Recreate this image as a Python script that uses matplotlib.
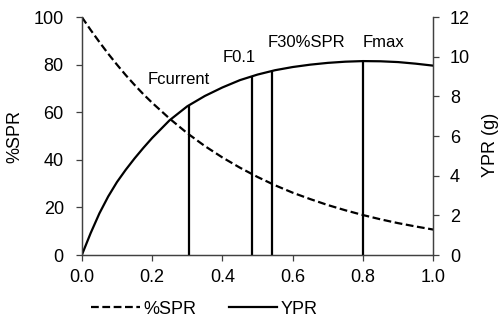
import matplotlib
matplotlib.use("Agg")
from matplotlib import pyplot as plt

plt.rcParams['font.family'] = ['Liberation Sans', 'DejaVu Sans']
plt.rcParams['font.size'] = 13

# fishing mortality grid
f_vals = [0.0, 0.025, 0.05, 0.075, 0.1, 0.125, 0.15, 0.175, 0.2, 0.25, 0.3,
          0.35, 0.4, 0.45, 0.5, 0.55, 0.6, 0.65, 0.7, 0.75, 0.8, 0.85, 0.9,
          0.95, 1.0]
spr_vals = [100, 94.6, 89.5, 84.6, 80, 75.6, 71.5, 67.6, 64, 57.3, 51.2,
            45.8, 41, 36.7, 32.8, 29.3, 26.2, 23.5, 21, 18.8, 16.8, 15, 13.4,
            12, 10.7]
ypr_vals = [0, 1.1, 2.1, 2.95, 3.68, 4.3, 4.87, 5.4, 5.9, 6.8, 7.5,
            8.02, 8.45, 8.82, 9.1, 9.32, 9.48, 9.6, 9.69, 9.75, 9.78, 9.77,
            9.73, 9.65, 9.55]

# reference points
ref_names = ["Fcurrent", "F0.1", "F30%SPR", "Fmax"]
ref_f = [0.305, 0.484, 0.54, 0.8]
ref_ypr = [7.57, 9.04, 9.3, 9.78]
label_x = [0.276, 0.447, 0.638, 0.858]
label_y = [8.87, 9.98, 10.74, 10.74]

fig = plt.figure(figsize=(5.02, 3.22), dpi=100)
ax = fig.add_axes([0.163, 0.208, 0.7, 0.739])
ax2 = ax.twinx()

l1, = ax.plot(f_vals, spr_vals, color='black', lw=1.6, ls='--', dashes=(3.5, 1.6), label='%SPR')
l2, = ax2.plot(f_vals, ypr_vals, color='black', lw=1.6, label='YPR')
ax2.vlines(ref_f, 0, ref_ypr, color='black', lw=1.6)
for name, x, y in zip(ref_names, label_x, label_y):
    ax2.text(x, y, name, ha='center', va='center', fontsize=12)

ax.set_xlim(0, 1.0)
ax.set_ylim(0, 100)
ax2.set_ylim(0, 12)
ax.set_xticks([0, 0.2, 0.4, 0.6, 0.8, 1.0])
ax.set_xticklabels(['0.0', '0.2', '0.4', '0.6', '0.8', '1.0'])
ax.set_yticks(range(0, 101, 20))
ax2.set_yticks(range(0, 13, 2))

for a in (ax, ax2):
    a.spines['top'].set_visible(False)
    for s in a.spines.values():
        s.set_color('#404040')
        s.set_linewidth(0.9)
    a.tick_params(direction='out', length=4, width=0.9, color='#404040')
ax.tick_params(axis='x', pad=6)
ax.tick_params(axis='y', pad=9)
ax2.tick_params(axis='y', pad=8)

ax.set_ylabel('%SPR')
ax2.set_ylabel('YPR (g)')
ax.yaxis.set_label_coords(-0.165, 0.5)
ax2.yaxis.set_label_coords(1.14, 0.462)

fig.legend(handles=[l1, l2], loc='center', bbox_to_anchor=(0.407, 0.04), ncol=2,
           frameon=False, handlelength=2.7, handletextpad=0.17, columnspacing=1.8,
           borderpad=0, fontsize=13)

fig.savefig('out.png', dpi=100)
